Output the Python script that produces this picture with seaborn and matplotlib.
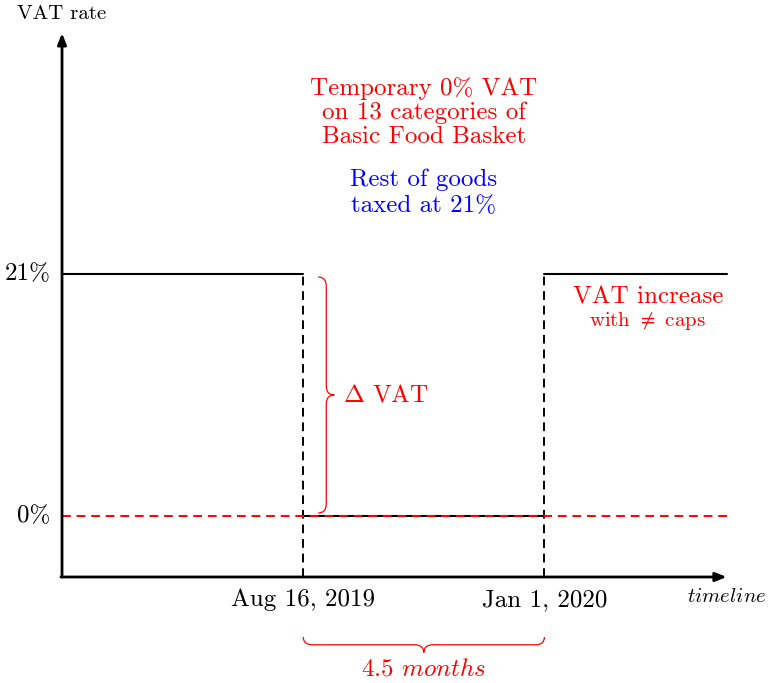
"""
plot.py
Temporary 0% VAT timeline diagram (Aug 16, 2019 - Jan 1, 2020)
"""

import numpy as np
import pandas as pd
import matplotlib
matplotlib.use('Agg')
import matplotlib.pyplot as plt
import seaborn as sns
from matplotlib.path import Path
from matplotlib.patches import PathPatch

# ── Data ─────────────────────────────────────────────────────────────────────
# time in months measured from the axis origin
period_start = [0.0, 4.5, 9.0]
period_end   = [4.5, 9.0, 12.4]
period_rate  = [21, 0, 21]          # VAT rate (%) in each period
date_pos     = [4.5, 9.0]
date_labels  = ['Aug 16, 2019', 'Jan 1, 2020']
rate_levels  = [21, 0]
rate_labels  = ['21%', '0%']

RED  = '#ff0000'
BLUE = '#0000ff'
BIG, SMALL = 18, 15

sns.set_theme(style='white')
plt.rcParams['font.family'] = ['cmr10', 'DejaVu Serif']
plt.rcParams['mathtext.fontset'] = 'cm'
plt.rcParams['axes.formatter.use_mathtext'] = True
plt.rcParams['text.color'] = 'black'

fig = plt.figure(figsize=(7.69, 6.83), dpi=100)
ax = fig.add_axes([0, 0, 1, 1])
ax.set_xlim(-1.157, 13.19)
ax.set_ylim(-14.49, 44.78)
ax.set_axis_off()

y_bottom = -5.29          # where the time axis sits
x_end = period_end[-1]

# ── Step of VAT rates ────────────────────────────────────────────────────────
rows = []
for i, (a, b, r) in enumerate(zip(period_start, period_end, period_rate)):
    rows.append({'period': i, 't': a, 'vat': r})
    rows.append({'period': i, 't': b, 'vat': r})
df = pd.DataFrame(rows)
sns.lineplot(data=df, x='t', y='vat', units='period', estimator=None,
             color='black', lw=1.5, ax=ax, legend=False)

# zero line in red dashes
ax.plot([0, x_end], [0, 0], color=RED, lw=1.4, ls=(0, (4.5, 3)), zorder=3)

# dashed verticals at the two dates
for d in date_pos:
    ax.plot([d, d], [y_bottom, max(period_rate)], color='black', lw=1.4,
            ls=(0, (4.5, 3)), zorder=2)

# ── Axes with arrows ─────────────────────────────────────────────────────────
arrow = dict(arrowstyle='-|>,head_length=0.55,head_width=0.22', color='black',
             lw=2.0, shrinkA=0, shrinkB=0)
ax.annotate('', xy=(0, 41.9), xytext=(0, y_bottom), arrowprops=arrow)
ax.annotate('', xy=(x_end, y_bottom), xytext=(-0.02, y_bottom), arrowprops=arrow)

ax.text(0, 43.6, 'VAT rate', ha='center', va='center', fontsize=SMALL)
ax.text(x_end, -7.05, r'$timeline$', ha='center', va='center', fontsize=SMALL)

for lvl, lab in zip(rate_levels, rate_labels):
    ax.text(-0.22, lvl, lab, ha='right', va='center', fontsize=BIG)

for d, lab in zip(date_pos, date_labels):
    ax.text(d, -7.3, lab, ha='center', va='center', fontsize=BIG)


# ── Braces ───────────────────────────────────────────────────────────────────
def brace(x0, y0, x1, y1, amp, rad, vertical=False):
    """Curly brace; amp/rad in data units (perpendicular / along)."""
    if not vertical:
        xm = (x0 + x1) / 2
        y = y0
        pts = [(x0, y), (x0, y - amp / 2), (x0 + rad, y - amp / 2),
               (xm - rad, y - amp / 2), (xm, y - amp / 2), (xm, y - amp),
               (xm, y - amp / 2), (xm + rad, y - amp / 2),
               (x1 - rad, y - amp / 2), (x1, y - amp / 2), (x1, y)]
    else:
        ym = (y0 + y1) / 2
        x = x0
        pts = [(x, y0), (x + amp / 2, y0), (x + amp / 2, y0 - rad),
               (x + amp / 2, ym + rad), (x + amp / 2, ym), (x + amp, ym),
               (x + amp / 2, ym), (x + amp / 2, ym - rad),
               (x + amp / 2, y1 + rad), (x + amp / 2, y1), (x, y1)]
    codes = [Path.MOVETO, Path.CURVE3, Path.CURVE3, Path.LINETO,
             Path.CURVE3, Path.CURVE3, Path.CURVE3, Path.CURVE3,
             Path.LINETO, Path.CURVE3, Path.CURVE3]
    ax.add_patch(PathPatch(Path(pts, codes), fc='none', ec=RED, lw=0.9))


brace(date_pos[0] + 0.28, 20.74, None, 0.26, amp=0.30, rad=0.78, vertical=True)
ax.text(date_pos[0] + 0.74, 10.5, r'$\Delta$ VAT', ha='left', va='center',
        color=RED, fontsize=BIG)

brace(date_pos[0], -10.5, date_pos[1], None, amp=1.35, rad=0.17)
ax.text(np.mean(date_pos), -13.35, r'4.5 $months$', ha='center', va='center',
        color=RED, fontsize=BIG)

# ── Annotations ──────────────────────────────────────────────────────────────
mid = np.mean(date_pos)
ax.text(mid, 35.0, 'Temporary 0% VAT\non 13 categories of\nBasic Food Basket',
        ha='center', va='center', color=RED, fontsize=BIG, linespacing=1.1)
ax.text(mid, 28.05, 'Rest of goods\ntaxed at 21%', ha='center', va='center',
        color=BLUE, fontsize=BIG, linespacing=1.18)

ax.text(10.93, 19.0, 'VAT increase', ha='center', va='center', color=RED,
        fontsize=BIG)
ax.text(10.93, 16.9, r'with $\neq$ caps', ha='center', va='center', color=RED,
        fontsize=SMALL)

fig.savefig('out.png', dpi=100)
